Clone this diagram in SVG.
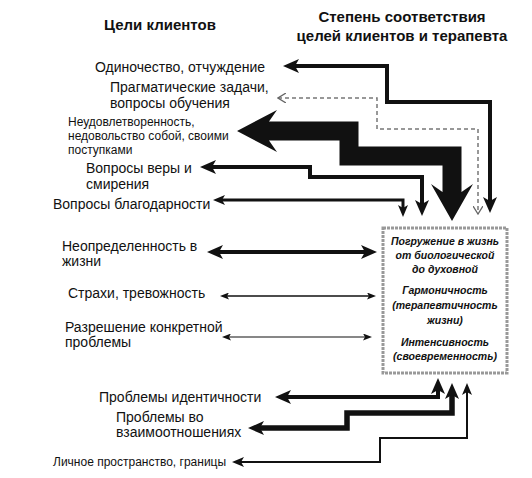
<svg xmlns="http://www.w3.org/2000/svg" width="532" height="478" viewBox="0 0 532 478">
<style>
.t{font-family:"Liberation Sans",Arial,sans-serif;font-size:14px;fill:#111}
.s{font-size:12px}
.h{font-family:"Liberation Sans",Arial,sans-serif;font-size:15px;font-weight:bold;fill:#111;text-anchor:middle}
.b{font-family:"Liberation Sans",Arial,sans-serif;font-size:10.5px;font-weight:bold;font-style:italic;fill:#111;text-anchor:middle}
.c{fill:none;stroke:#111;stroke-linejoin:miter}
</style>
<defs>
<marker id="hL" viewBox="0 0 16 14" markerWidth="16" markerHeight="14" refX="5" refY="7" markerUnits="userSpaceOnUse" orient="auto-start-reverse"><path d="M0,0 L16,7 L0,14 L4,7 Z" fill="#111"/></marker>
<marker id="hM" viewBox="0 0 12 10" markerWidth="12" markerHeight="10" refX="4" refY="5" markerUnits="userSpaceOnUse" orient="auto-start-reverse"><path d="M0,0 L12,5 L0,10 L3,5 Z" fill="#111"/></marker>
<marker id="hS" viewBox="0 0 9 7" markerWidth="9" markerHeight="7" refX="3" refY="3.5" markerUnits="userSpaceOnUse" orient="auto-start-reverse"><path d="M0,0 L9,3.5 L0,7 L2,3.5 Z" fill="#111"/></marker>
<marker id="hO" viewBox="0 0 9 10" markerWidth="9" markerHeight="10" refX="8" refY="5" markerUnits="userSpaceOnUse" orient="auto-start-reverse"><path d="M0,0 L8,5 L0,10" fill="none" stroke="#666" stroke-width="1.3"/></marker>
</defs>
<rect width="532" height="478" fill="#fff"/>
<g id="titles">
<text class="h" x="160" y="30">Цели клиентов</text>
<text class="h" x="402" y="22">Степень соответствия</text>
<text class="h" x="402" y="41">целей клиентов и терапевта</text>
</g>
<g id="connectors">
<path class="c" stroke-width="4" d="M294,66 H387 V102 H490 V202" marker-start="url(#hL)" marker-end="url(#hL)"/>
<path class="c" stroke="#777" stroke-width="1.5" stroke-dasharray="4 3" d="M278,98 H377 V129 H478 V214" style="stroke:#777" marker-start="url(#hO)" marker-end="url(#hO)"/>
<path class="c" stroke-width="19" d="M269,131 H349 V156 H452 V193"/>
<path d="M237,131 L277,110 L269,121.5 L269,140.5 L277,152 Z" fill="#111"/>
<path d="M452,221 L431,184 L442.5,192 L461.5,192 L473,184 Z" fill="#111"/>
<path class="c" stroke-width="4" d="M211,167 H310 V177 H422 V205" marker-start="url(#hL)" marker-end="url(#hL)"/>
<path class="c" stroke-width="3" d="M221,200 H403 V209" marker-start="url(#hM)" marker-end="url(#hM)"/>
<path class="c" stroke-width="4" d="M218,252 H366" marker-start="url(#hL)" marker-end="url(#hL)"/>
<path class="c" stroke-width="1.5" d="M226,296 H370" marker-start="url(#hS)" marker-end="url(#hS)"/>
<path class="c" stroke-width="1.2" d="M228,337 H366" marker-start="url(#hS)" marker-end="url(#hS)"/>
<path class="c" stroke-width="4" d="M286,397 H438 V389" marker-start="url(#hL)" marker-end="url(#hL)"/>
<path class="c" stroke-width="5.5" d="M259,428 H347 V413 H452 V394" marker-start="url(#hL)" marker-end="url(#hL)"/>
<path class="c" stroke-width="2" d="M240,462 H380 V438 H467 V391" marker-start="url(#hM)" marker-end="url(#hM)"/>
</g>
<g id="n-center">
<rect x="383" y="228" width="124" height="145" fill="#fff" stroke="#999" stroke-width="3" stroke-dasharray="3 1"/>
<text class="b" x="445" y="245">Погружение в жизнь</text>
<text class="b" x="445" y="259">от биологической</text>
<text class="b" x="445" y="273">до духовной</text>
<text class="b" x="445" y="294">Гармоничность</text>
<text class="b" x="445" y="309">(терапевтичность</text>
<text class="b" x="445" y="324">жизни)</text>
<text class="b" x="445" y="346">Интенсивность</text>
<text class="b" x="445" y="360">(своевременность)</text>
</g>
<g id="n-odinochestvo"><text class="t" x="95" y="72">Одиночество, отчуждение</text></g>
<g id="n-pragmatic"><text class="t" x="110" y="92">Прагматические задачи,</text><text class="t" x="110" y="108">вопросы обучения</text></g>
<g id="n-neudovl"><text class="t s" x="68" y="126">Неудовлетворенность,</text><text class="t s" x="68" y="140">недовольство собой, своими</text><text class="t s" x="68" y="154">поступками</text></g>
<g id="n-very"><text class="t" x="86" y="173">Вопросы веры и</text><text class="t" x="86" y="189">смирения</text></g>
<g id="n-blagodarnost"><text class="t" x="53" y="209">Вопросы благодарности</text></g>
<g id="n-neopr"><text class="t" x="62" y="251">Неопределенность в</text><text class="t" x="62" y="266">жизни</text></g>
<g id="n-strahi"><text class="t" x="68" y="298">Страхи, тревожность</text></g>
<g id="n-razresh"><text class="t" x="65" y="332">Разрешение конкретной</text><text class="t" x="65" y="347">проблемы</text></g>
<g id="n-ident"><text class="t" x="99" y="402">Проблемы идентичности</text></g>
<g id="n-vzaim"><text class="t" x="116" y="422">Проблемы во</text><text class="t" x="116" y="437">взаимоотношениях</text></g>
<g id="n-lichnoe"><text class="t s" x="53" y="466">Личное пространство, границы</text></g>
</svg>
